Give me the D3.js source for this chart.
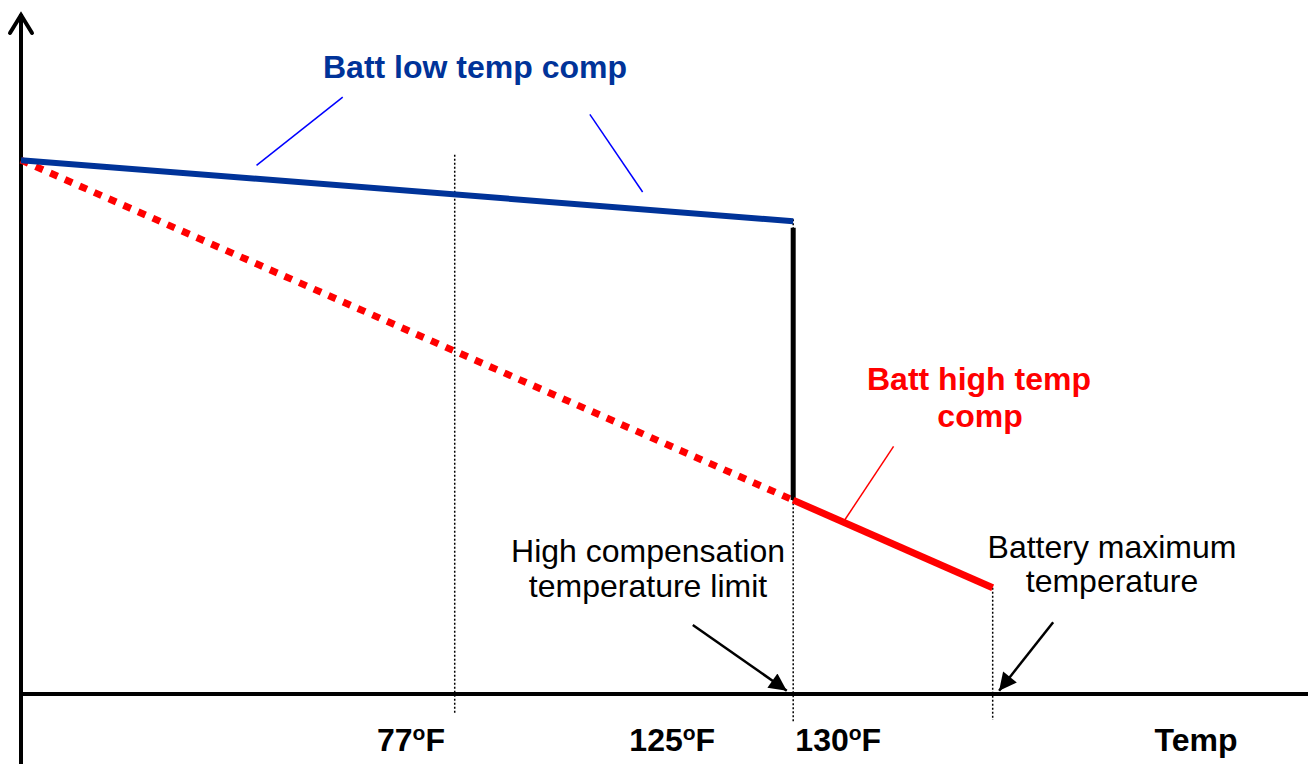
<!DOCTYPE html>
<html>
<head>
<meta charset="utf-8">
<script src="https://cdn.jsdelivr.net/npm/d3@7"></script>
<style>
  body { margin: 0; background: #fff; }
  svg { display: block; font-family: "Liberation Sans", Arial, sans-serif; }
</style>
</head>
<body>
<div class="chart"></div>
<script>
// chart units: x = temperature position (0..10), y = voltage level (0..10)
var tempNames = ["start", "77", "limit", "max"];
var tempPos = [0, 3.37, 6.0, 7.55];

var lowComp = [[0, 8.04], [6.0, 7.12]];          // blue solid
var highCompDotted = [[0, 8.04], [6.0, 2.92]];   // red dotted
var highComp = [[6.0, 2.92], [7.55, 1.6]];       // red solid
var stepLine = [[6.0, 7.02], [6.0, 2.92]];       // black drop

// vertical dotted guides: [x, yTop, yBottom]
var guides = [[3.37, 8.12, -0.3], [6.0, 7.15, -0.42], [7.55, 1.6, -0.39]];

var tickLabels = [
  {x: 3.03, base: "77", sup: "o", tail: "F"},
  {x: 5.06, base: "125", sup: "o", tail: "F"},
  {x: 6.35, base: "130", sup: "o", tail: "F"},
  {x: 9.13, base: "Temp", sup: "", tail: ""}
];

var width = 1308,
    height = 764;

var x = d3.scaleLinear().domain([0, 10]).range([21, 1308]);
var y = d3.scaleLinear().domain([0, 10]).range([694, 30]);

var svg = d3.select("div.chart").append("svg")
  .attr("width", width)
  .attr("height", height);

var defs = svg.append("defs");
defs.append("marker")
  .attr("id", "head")
  .attr("viewBox", "0 0 10 10")
  .attr("refX", 10).attr("refY", 5)
  .attr("markerWidth", 9).attr("markerHeight", 7)
  .attr("markerUnits", "strokeWidth")
  .attr("orient", "auto")
  .append("path").attr("d", "M0,0 L10,5 L0,10 z").attr("fill", "#000");

var line = d3.line()
  .x(function(d) { return x(d[0]); })
  .y(function(d) { return y(d[1]); });

// dotted guides
svg.selectAll(".guide")
  .data(guides)
  .enter().append("line")
  .attr("class", "guide")
  .attr("x1", function(d) { return x(d[0]); })
  .attr("x2", function(d) { return x(d[0]); })
  .attr("y1", function(d) { return y(d[1]); })
  .attr("y2", function(d) { return y(d[2]); })
  .attr("stroke", "#000")
  .attr("stroke-width", 1.5)
  .attr("stroke-dasharray", "2 2");

// axes
svg.append("line")
  .attr("x1", x(0)).attr("x2", x(10))
  .attr("y1", y(0)).attr("y2", y(0))
  .attr("stroke", "#000").attr("stroke-width", 4);

svg.append("line")
  .attr("x1", x(0)).attr("x2", x(0))
  .attr("y1", height).attr("y2", y(10) - 16)
  .attr("stroke", "#000").attr("stroke-width", 4);

svg.append("path")
  .attr("d", "M" + (x(0) - 11) + "," + (y(10) + 3) + " L" + x(0) + "," + (y(10) - 15) +
        " L" + (x(0) + 11) + "," + (y(10) + 3))
  .attr("fill", "none").attr("stroke", "#000")
  .attr("stroke-width", 4).attr("stroke-linecap", "round").attr("stroke-linejoin", "miter");

// series
svg.append("path").datum(highCompDotted)
  .attr("d", line).attr("fill", "none")
  .attr("stroke", "#ff0000").attr("stroke-width", 7)
  .attr("stroke-dasharray", "8 8");

svg.append("path").datum(lowComp)
  .attr("d", line).attr("fill", "none")
  .attr("stroke", "#003399").attr("stroke-width", 6);

svg.append("path").datum(stepLine)
  .attr("d", line).attr("fill", "none")
  .attr("stroke", "#000").attr("stroke-width", 5);

svg.append("path").datum(highComp)
  .attr("d", line).attr("fill", "none")
  .attr("stroke", "#ff0000").attr("stroke-width", 7);

// callout lines to the series labels
var callouts = [
  {pts: [[2.5, 8.99], [1.83, 7.96]], color: "#0000ff"},
  {pts: [[4.42, 8.73], [4.83, 7.56]], color: "#0000ff"},
  {pts: [[6.78, 3.73], [6.39, 2.59]], color: "#ff0000"}
];
svg.selectAll(".callout")
  .data(callouts)
  .enter().append("path")
  .attr("class", "callout")
  .attr("d", function(d) { return line(d.pts); })
  .attr("fill", "none")
  .attr("stroke", function(d) { return d.color; })
  .attr("stroke-width", 1.5);

// arrows to the axis
var arrows = [
  [[5.22, 1.04], [5.95, 0.05]],
  [[8.02, 1.08], [7.6, 0.05]]
];
svg.selectAll(".arrow")
  .data(arrows)
  .enter().append("path")
  .attr("class", "arrow")
  .attr("d", line)
  .attr("stroke", "#000").attr("stroke-width", 2.5)
  .attr("marker-end", "url(#head)");

// series labels
function addText(tx, ty, str, color, bold) {
  svg.append("text")
    .attr("x", tx).attr("y", ty)
    .attr("text-anchor", "middle")
    .attr("font-size", 32)
    .attr("font-weight", bold ? "bold" : "normal")
    .attr("fill", color)
    .text(str);
}
addText(475, 78, "Batt low temp comp", "#003399", true);
addText(979, 390, "Batt high temp", "#ff0000", true);
addText(980, 427, "comp", "#ff0000", true);
addText(648, 562, "High compensation", "#000", false);
addText(648, 597, "temperature limit", "#000", false);
addText(1112, 558, "Battery maximum", "#000", false);
addText(1112, 592, "temperature", "#000", false);

// tick labels
var ticks = svg.selectAll(".tick")
  .data(tickLabels)
  .enter().append("text")
  .attr("class", "tick")
  .attr("x", function(d) { return x(d.x); })
  .attr("y", 751)
  .attr("text-anchor", "middle")
  .attr("font-size", 32)
  .attr("font-weight", "bold");
ticks.append("tspan").text(function(d) { return d.base; });
ticks.append("tspan")
  .attr("font-size", 21).attr("dy", -11)
  .text(function(d) { return d.sup; });
ticks.append("tspan")
  .attr("dy", function(d) { return d.sup ? 11 : 0; })
  .text(function(d) { return d.tail; });
</script>
</body>
</html>
